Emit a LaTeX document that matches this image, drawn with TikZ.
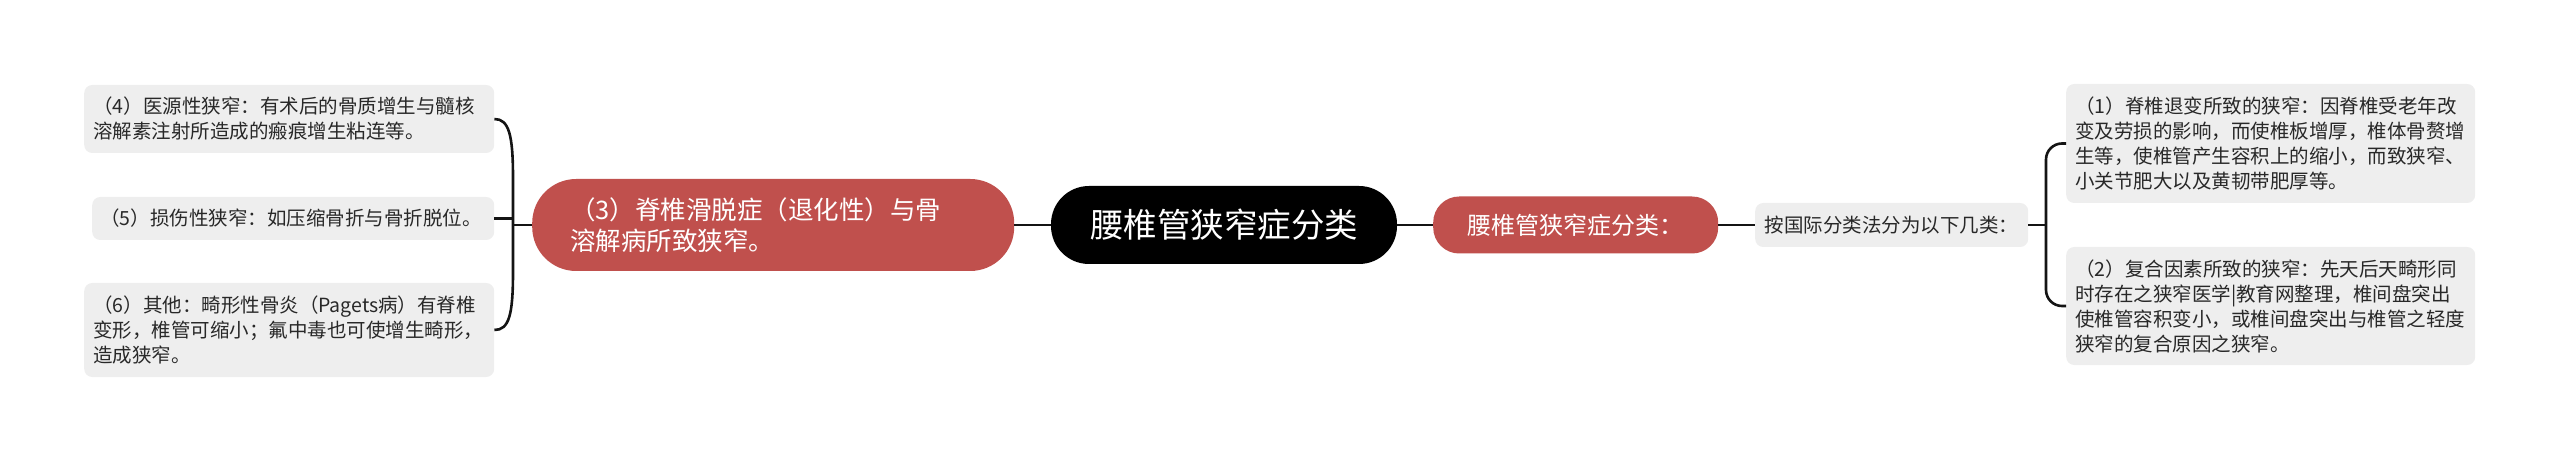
\documentclass[tikz,border=0pt]{standalone}
\usepackage{fontspec}
\setmainfont{Noto Sans CJK SC}
\definecolor{nodered}{RGB}{192,80,77}
\definecolor{leafgrey}{RGB}{238,238,238}
\definecolor{textdark}{RGB}{40,40,40}
\definecolor{linedark}{RGB}{20,20,20}
\begin{document}
\begin{tikzpicture}[x=1pt,y=-1pt,
  leaf/.style={fill=leafgrey, rounded corners=8, align=left, inner xsep=9, inner ysep=0,
    font=\fontsize{19.5}{25}\selectfont, text=textdark, anchor=west},
  redbox/.style={fill=nodered, text=white, inner ysep=0},
  rootbox/.style={fill=black, text=white, inner ysep=0, inner xsep=0},
  conn/.style={draw=linedark, line width=2.6}]
\useasboundingbox (0,0) rectangle (2560,462);

% root
\node[rootbox, rounded corners=38, minimum width=346, minimum height=78,
  font=\fontsize{33.5}{38}\selectfont] (root) at (1224,225) {腰椎管狭窄症分类};

% left main branch
\node[redbox, rounded corners=44, anchor=west, minimum height=92, inner xsep=38,
  text width=406, align=left, font=\fontsize{25.5}{31}\selectfont] (b3) at (532,225)
  {（3）脊椎滑脱症（退化性）与骨\\溶解病所致狭窄。};

% left leaves
\node[leaf, text width=392, minimum height=68] (b4) at (84,119)
  {（4）医源性狭窄：有术后的骨质增生与髓核\\溶解素注射所造成的瘢痕增生粘连等。};
\node[leaf, text width=386, inner xsep=8, minimum height=43] (b5) at (92,218.5)
  {（5）损伤性狭窄：如压缩骨折与骨折脱位。};
\node[leaf, text width=392, minimum height=94] (b6) at (84,330)
  {（6）其他：畸形性骨炎（Pagets病）有脊椎\\变形，椎管可缩小；氟中毒也可使增生畸形，\\造成狭窄。};

% right main branch
\node[redbox, rounded corners=26, anchor=west, minimum width=285, minimum height=57,
  inner xsep=0, font=\fontsize{24}{29}\selectfont] (br) at (1433,225) {腰椎管狭窄症分类：};
\node[fill=leafgrey, rounded corners=8, anchor=west, minimum width=273, minimum height=44,
  inner xsep=0, inner ysep=0, text=textdark, font=\fontsize{19.5}{25}\selectfont] (bg) at (1755,225)
  {按国际分类法分为以下几类：};

% right leaves
\node[leaf, text width=391, minimum height=119] (b1) at (2066,143.5)
  {（1）脊椎退变所致的狭窄：因脊椎受老年改\\变及劳损的影响，而使椎板增厚，椎体骨赘增\\生等，使椎管产生容积上的缩小，而致狭窄、\\小关节肥大以及黄韧带肥厚等。};
\node[leaf, text width=391, minimum height=118] (b2) at (2066,306)
  {（2）复合因素所致的狭窄：先天后天畸形同\\时存在之狭窄医学|教育网整理，椎间盘突出\\使椎管容积变小，或椎间盘突出与椎管之轻度\\狭窄的复合原因之狭窄。};

% junctions
\coordinate (jl) at (513,225);
\coordinate (jr) at (2046,225);

% connectors
\draw[conn] (root.west) -- (b3.east);
\draw[conn] (root.east) -- (br.west);
\draw[conn] (br.east) -- (bg.west);
\draw[conn] (bg.east) -- (jr);
\draw[conn, rounded corners=16] (b1.west) -| (jr) |- (b2.west);
\draw[conn] (b3.west) -- (jl);
\draw[conn] (b4.east) .. controls (509,119) and (513,135) .. (513,178) -- (513,272)
  .. controls (513,315) and (509,330) .. (b6.east);
\draw[conn] (b5.east) -- (b5.east -| jl);
\end{tikzpicture}
\end{document}
